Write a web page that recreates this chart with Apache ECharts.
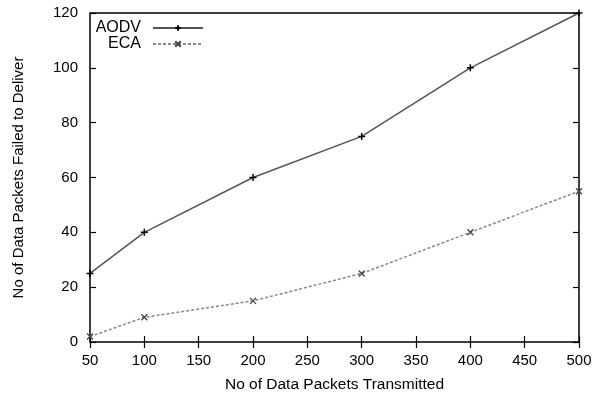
<!DOCTYPE html>
<html>
<head>
<meta charset="utf-8">
<script src="https://cdn.jsdelivr.net/npm/echarts@6/dist/echarts.min.js"></script>
<style>
  html, body { margin: 0; padding: 0; background: #fff; }
  #chart { width: 596px; height: 398px; }
</style>
</head>
<body>
<div id="chart"></div>
<script>
const packetsSent = [50, 100, 200, 300, 400, 500];
const aodvFailed = [25, 40, 60, 75, 100, 120];
const ecaFailed = [2, 9, 15, 25, 40, 55];

const font = 'Liberation Sans, Arial, sans-serif';
const plusSym = 'path://M0,5L10,5M5,0L5,10';
const crossSym = 'path://M0,0L10,10M10,0L0,10';

const pairs = (ys) => packetsSent.map((x, i) => [x, ys[i]]);

const chart = echarts.init(document.getElementById('chart'));

const tickOnly = {
  axisLine: { show: false },
  axisTick: { show: true, inside: true, length: 6, lineStyle: { color: '#000', width: 1.2 } },
  axisLabel: { show: false },
  splitLine: { show: false }
};

chart.setOption({
  animation: false,
  grid: { left: 90, right: 17, top: 13, bottom: 55, show: true, borderColor: '#000', borderWidth: 1.5 },
  legend: {
    orient: 'vertical',
    left: 95,
    top: 20,
    padding: 0,
    align: 'right',
    itemWidth: 50,
    itemHeight: 7,
    itemGap: 0,
    textStyle: { fontFamily: font, fontSize: 16, lineHeight: 16, color: '#000', width: 46, align: 'right', padding: [0, 7, 0, 0] },
    data: ['AODV', 'ECA']
  },
  xAxis: [
    {
      type: 'value', min: 50, max: 500, interval: 50,
      name: 'No of Data Packets Transmitted',
      nameLocation: 'middle', nameGap: 35,
      nameTextStyle: { fontFamily: font, fontSize: 15.5, color: '#000' },
      axisLine: { show: false },
      axisTick: { show: true, inside: true, length: 6, lineStyle: { color: '#000', width: 1.2 } },
      axisLabel: { fontFamily: font, fontSize: 15, color: '#000', margin: 11 },
      splitLine: { show: false }
    },
    Object.assign({ type: 'value', position: 'top', min: 50, max: 500, interval: 50 }, tickOnly)
  ],
  yAxis: [
    {
      type: 'value', min: 0, max: 120, interval: 20,
      name: 'No of Data Packets Failed to Deliver',
      nameLocation: 'middle', nameGap: 64,
      nameTextStyle: { fontFamily: font, fontSize: 15, color: '#000' },
      axisLine: { show: false },
      axisTick: { show: true, inside: true, length: 6, lineStyle: { color: '#000', width: 1.2 } },
      axisLabel: { fontFamily: font, fontSize: 15, color: '#000', margin: 12 },
      splitLine: { show: false }
    },
    Object.assign({ type: 'value', position: 'right', min: 0, max: 120, interval: 20 }, tickOnly)
  ],
  series: [
    {
      name: 'AODV',
      type: 'line',
      data: pairs(aodvFailed),
      symbol: plusSym,
      symbolSize: 7,
      showAllSymbol: true,
      lineStyle: { color: '#555', width: 1.5 },
      itemStyle: { color: 'none', borderColor: '#000', borderWidth: 1.5 }
    },
    {
      name: 'ECA',
      type: 'line',
      data: pairs(ecaFailed),
      symbol: crossSym,
      symbolSize: 6,
      showAllSymbol: true,
      lineStyle: { color: '#888', width: 1.5, type: [3, 2] },
      itemStyle: { color: 'none', borderColor: '#444', borderWidth: 1.3 }
    }
  ]
});
</script>
</body>
</html>
